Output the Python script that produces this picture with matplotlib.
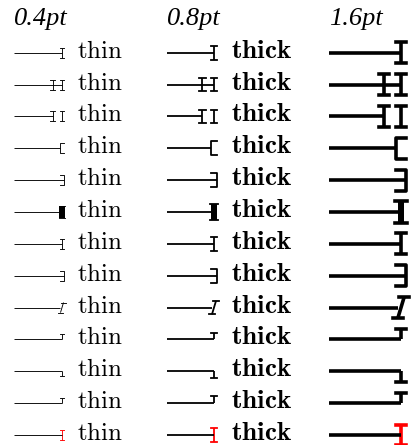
import matplotlib
matplotlib.use("Agg")
import matplotlib.pyplot as plt
from matplotlib.patches import Rectangle

plt.rcParams["mathtext.fontset"] = "cm"

DPI = 100
W, H = 414, 445

# chart content
header_labels = ["0.4pt", "0.8pt", "1.6pt"]
line_widths_pt = [0.4, 0.8, 1.6]
row_labels = ["thin", "thick", None]
label_styles = [r"\mathrm", r"\mathbf", None]
tip_kinds = ["I", "H", "II", "[", "]", "block", "I",
             "]", "slant", "top", "bottom", "top", "I"]
tip_colors = ["black"] * 12 + ["red"]

# layout (pixels)
PX_PER_PT = 2.25
COL_X0 = [14, 167, 329]
COL_X1 = [62, 214, 401]
LABEL_X = [77, 231, None]
LABEL_SIZE = [18, 19.5, None]
ROW0_Y = 52.7
ROW_STEP = 31.86
HEADER_Y = 25


def pts(px):
    return px * 72 / DPI


def seg(ax, xs, ys, lw, color, cap="projecting"):
    ax.plot(xs, ys, color=color, lw=pts(lw), solid_capstyle=cap)


def draw_tip(ax, kind, xe, y, pt, color):
    lw = pt * PX_PER_PT
    h = 6.5 + 9 * pt
    c = 3 + 4.5 * pt
    g = 6.5 + 6.5 * pt

    def ibeam(x):
        seg(ax, [x, x], [y - h / 2, y + h / 2], lw, color, "butt")
        seg(ax, [x - c / 2, x + c / 2], [y - h / 2, y - h / 2], lw, color)
        seg(ax, [x - c / 2, x + c / 2], [y + h / 2, y + h / 2], lw, color)

    if kind == "I":
        ibeam(xe)
        return xe
    if kind == "H":
        ibeam(xe - g)
        ibeam(xe)
        return xe
    if kind == "II":
        ibeam(xe - g)
        ibeam(xe)
        return xe - g
    if kind == "[":
        xv = xe - c / 2
        seg(ax, [xv + c, xv, xv, xv + c],
            [y - h / 2, y - h / 2, y + h / 2, y + h / 2], lw, color)
        return xv
    if kind == "]":
        xv = xe + c / 2
        seg(ax, [xv - c, xv, xv, xv - c],
            [y - h / 2, y - h / 2, y + h / 2, y + h / 2], lw, color)
        return xv
    if kind == "block":
        bw = 5 + pt
        hb = h * 1.1
        cb = c * 1.2
        ax.add_patch(Rectangle((xe - bw / 2, y - hb / 2), bw, hb,
                               color=color, lw=0))
        seg(ax, [xe - cb / 2, xe + cb / 2], [y - hb / 2, y - hb / 2], lw, color)
        seg(ax, [xe - cb / 2, xe + cb / 2], [y + hb / 2, y + hb / 2], lw, color)
        return xe
    if kind == "slant":
        s = 0.3 * h
        seg(ax, [xe - s / 2, xe + s / 2], [y + h / 2, y - h / 2], lw, color, "butt")
        seg(ax, [xe + s / 2 - c / 2, xe + s / 2 + c / 2], [y - h / 2, y - h / 2], lw, color)
        seg(ax, [xe - s / 2 - c / 2, xe - s / 2 + c / 2], [y + h / 2, y + h / 2], lw, color)
        return xe - s / 2
    if kind in ("top", "bottom"):
        yc = y - h / 2 if kind == "top" else y + h / 2
        seg(ax, [xe, xe], [y, yc], lw, color, "butt")
        seg(ax, [xe - c / 2, xe + c / 2], [yc, yc], lw, color)
        return xe
    return xe


fig = plt.figure(figsize=(W / DPI, H / DPI), dpi=DPI)
ax = fig.add_axes([0, 0, 1, 1])
ax.set_xlim(0, W)
ax.set_ylim(H, 0)
ax.axis("off")

for j, pt in enumerate(line_widths_pt):
    ax.text(COL_X0[j], HEADER_Y, header_labels[j], family="Liberation Serif",
            style="italic", fontsize=19, ha="left", va="baseline")
    for i, kind in enumerate(tip_kinds):
        y = ROW0_Y + i * ROW_STEP
        end = draw_tip(ax, kind, COL_X1[j], y, pt, tip_colors[i])
        seg(ax, [COL_X0[j], end], [y, y], pt * PX_PER_PT, "black", "butt")
        if row_labels[j]:
            ax.text(LABEL_X[j], y + 5, "$" + label_styles[j] + "{" + row_labels[j] + "}$",
                    fontsize=LABEL_SIZE[j], ha="left", va="baseline")

fig.savefig("out.png", dpi=DPI)
